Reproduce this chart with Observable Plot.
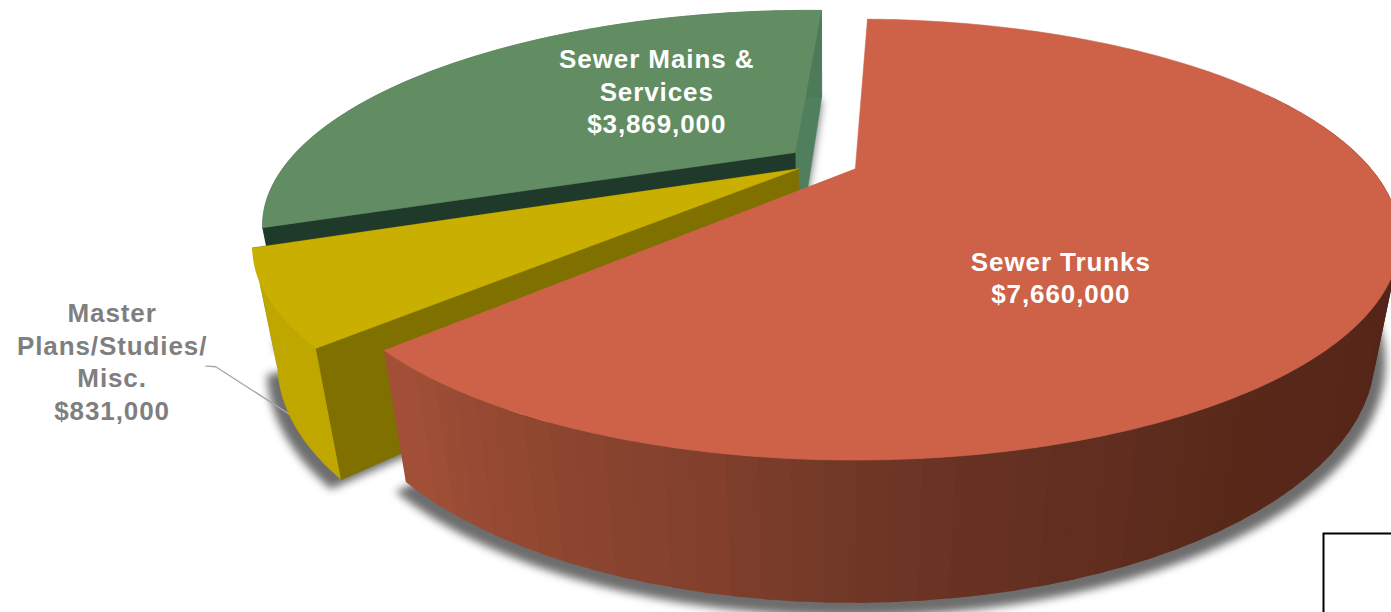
<!DOCTYPE html>
<html>
<head>
<meta charset="utf-8">
<script src="https://cdn.jsdelivr.net/npm/d3@7"></script>
<script src="https://cdn.jsdelivr.net/npm/@observablehq/plot@0.6"></script>
<style>
  html, body { margin: 0; padding: 0; background: #fff; overflow: hidden; }
  svg { display: block; }
  svg text { letter-spacing: 0.9px; }
</style>
</head>
<body>
<div id="chart"></div>
<script>
// Capital budget by category, drawn as an extruded, exploded pie.
const categories = ["Sewer Trunks", "Master Plans/Studies/ Misc.", "Sewer Mains & Services"];
const amounts = [7660000, 831000, 3869000];
const labelLines = ["Sewer Trunks", "Master\nPlans/Studies/\nMisc.", "Sewer Mains &\nServices"];
const topColors = ["#cd6248", "#c9b000", "#628c62"];
const rimColors = ["#5a2a1c", "#bfa700", "#4d7a58"];
const leadingWallColors = ["#cd6248", "#7f7000", "#1f3a2a"];
const trailingWallColors = ["#cd6248", "#7f7000", "#4f7f5c"];
const labelColors = ["#ffffff", "#7f7f7f", "#ffffff"];

// Shading along the front of the largest slice, by angle clockwise from twelve o'clock.
const rimAngles = [115, 147, 157, 165, 173, 181, 192, 205, 222];
const rimShades = ["#552519", "#582819", "#5f2c1e", "#632f20", "#693324", "#713827", "#82402d", "#8e4630", "#a24f37"];

// Camera model: a unit disc seen in perspective, with verticals meeting at a vanishing point.
const camera = {cx: 857, cy: 168, a: 518, b: 198.6, k: 0.324, depth: 0.0403, vx: 825, vy: 3000};
const startAngle = 1.7;
const rimVisibleFrom = 65;
// Per-slice displacement on the disc, radius, and polar label placement.
const explode = [[-0.004, 0], [-0.114, 0.001], [-0.123, -0.083]];
const radii = [0.995, 0.985, 0.99];
const labelPolar = [[143.9, 0.573], [233.18, 1.2265], [319, 0.49]];
// Leader from the small slice's label to its rim, polar on the disc.
const leaderPolar = [[228.1, 1.125], [227.5, 1.115], [215, 1.11]];
// Frame of the adjoining page element in the lower right corner.
const cornerBox = {x1: 1323.5, y1: 533.5, x2: 1400, y2: 640};

const rad = Math.PI / 180;
function project(u, w, z) {
  const {cx, cy, a, b, k, depth, vx, vy} = camera;
  const D = 1 - k * w, H = depth * z;
  return [(a * u + cx * D + vx * H) / (D + H), (b * w + cy * D + vy * H) / (D + H)];
}
function slicePoint(i, angle, r, z) {
  const t = angle * rad, R = r * radii[i];
  return project(explode[i][0] + R * Math.sin(t), explode[i][1] - R * Math.cos(t), z);
}

const total = d3.sum(amounts);
let cursor = startAngle;
const spans = amounts.map((v) => {
  const s = [cursor, cursor + (v / total) * 360];
  cursor = s[1];
  return s;
});

const rows = [];
function addFace(id, color, points, edge = color) {
  for (const [x, y] of points) rows.push({id, color, edge, x, y});
}
function arc(i, from, to, r, z) {
  const n = Math.max(2, Math.ceil(Math.abs(to - from)));
  return d3.range(n + 1).map((j) => slicePoint(i, from + ((to - from) * j) / n, r, z));
}

const rimShade = d3.scaleLinear().domain(rimAngles).range(rimShades).clamp(true);
const shadows = [];
spans.forEach(([a0, a1], i) => {
  const outline = [slicePoint(i, a0, 0, 1), ...arc(i, a0, a1, 1.018, 1)];
  for (const [x, y] of outline) shadows.push({id: i, x, y: y + 5});
});

// Paint back to front: the far slice, the small slice, then the largest one.
[2, 1, 0].forEach((i) => {
  const [a0, a1] = spans[i];
  const apexTop = slicePoint(i, a0, 0, 0);
  const apexBottom = slicePoint(i, a0, 0, 1);
  if (i !== 0) {
    addFace(`trail${i}`, trailingWallColors[i], [apexTop, slicePoint(i, a1, 1, 0), slicePoint(i, a1, 1, 1), apexBottom]);
    addFace(`rim${i}`, rimColors[i], [...arc(i, a0, a1, 1, 0), ...arc(i, a1, a0, 1, 1)]);
    addFace(`lead${i}`, leadingWallColors[i], [apexTop, slicePoint(i, a0, 1, 0), slicePoint(i, a0, 1, 1), apexBottom]);
  } else {
    // Overlapping bands with no outline, so neighbouring shades leave no seams.
    const step = 2.5;
    for (let t = a1; t > rimVisibleFrom; t -= step) {
      const s = Math.max(t - step - 1, rimVisibleFrom);
      addFace(`rim${i}-${t}`, rimShade(t - step / 2), [...arc(i, s, t, 1, 0), ...arc(i, t, s, 1, 1)], "none");
    }
  }
  addFace(`top${i}`, topColors[i], [apexTop, ...arc(i, a0, a1, 1, 0)]);
});

const labels = labelLines.map((name, i) => {
  const [x, y] = slicePoint(i, labelPolar[i][0], labelPolar[i][1] / radii[i], 0);
  const amount = "$" + d3.format(",")(amounts[i]);
  return {text: `${name}\n${amount}`, x, y, color: labelColors[i], category: categories[i]};
});
const leader = leaderPolar.map(([angle, r]) => {
  const [x, y] = slicePoint(1, angle, r / radii[1], 0);
  return {x, y};
});

const chart = Plot.plot({
  width: 1391,
  height: 612,
  margin: 0,
  x: {domain: [0, 1391], range: [0, 1391], axis: null},
  y: {domain: [0, 612], range: [0, 612], axis: null},
  color: {type: "identity"},
  marks: [
    Plot.line(shadows, {x: "x", y: "y", z: "id", fill: "#484848", imageFilter: "blur(4px)", fillOpacity: 0.8}),
    Plot.line(leader, {x: "x", y: "y", stroke: "#a6a6a6", strokeWidth: 1.3}),
    Plot.line(rows, {x: "x", y: "y", z: "id", fill: "color", stroke: "edge", strokeWidth: 0.6}),
    Plot.text(labels, {
      x: "x", y: "y", text: "text", fill: "color",
      fontFamily: "Liberation Sans", fontWeight: "bold", fontSize: 26, lineHeight: 1.255
    }),
    Plot.rect([cornerBox], {x1: "x1", y1: "y1", x2: "x2", y2: "y2", stroke: "#000", strokeWidth: 2, fill: "none"})
  ]
});
document.getElementById("chart").append(chart);
</script>
</body>
</html>
